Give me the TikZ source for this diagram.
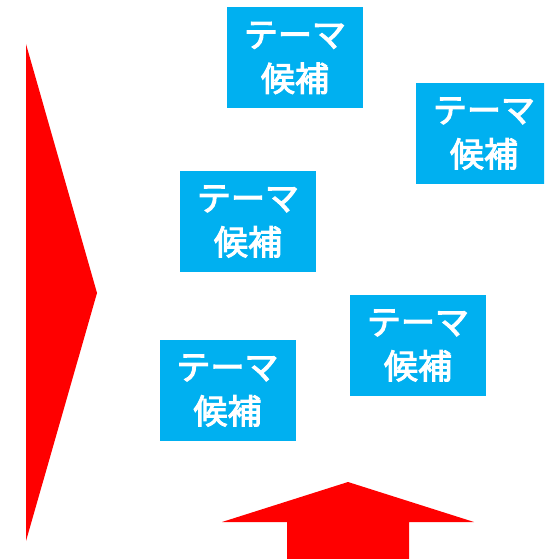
\documentclass[tikz,border=0pt]{standalone}
\usepackage{fontspec}
\newfontfamily\cjk[FakeBold=3]{Noto Sans CJK JP}
\definecolor{boxblue}{HTML}{00B0F0}
\definecolor{arrred}{HTML}{FF0000}
\tikzset{
  theme/.style={fill=boxblue, text=white, minimum width=136pt, minimum height=101pt,
    inner sep=0pt, align=center, font=\cjk\fontsize{34pt}{44pt}\selectfont},
  redshape/.style={fill=arrred, draw=none}
}
\begin{document}
\begin{tikzpicture}[x=1pt,y=-1pt]
\useasboundingbox (0,0) rectangle (544,559);
\begin{scope}
\clip (0,0) rectangle (544,559);
\fill[white] (0,0) rectangle (544,559);
\node[theme] (b1) at (295,58) {テーマ\\候補};
\node[theme] (b2) at (484,133.5) {テーマ\\候補};
\node[theme] (b3) at (248,221.5) {テーマ\\候補};
\node[theme] (b4) at (418,345.5) {テーマ\\候補};
\node[theme] (b5) at (227.5,390.5) {テーマ\\候補};
\fill[redshape] (26,44) -- (97,293) -- (26,541) -- cycle;
\fill[redshape] (348,482) -- (474,522) -- (409,522) -- (409,565) -- (287,565) -- (287,522) -- (222,522) -- cycle;
\end{scope}
\end{tikzpicture}
\end{document}
